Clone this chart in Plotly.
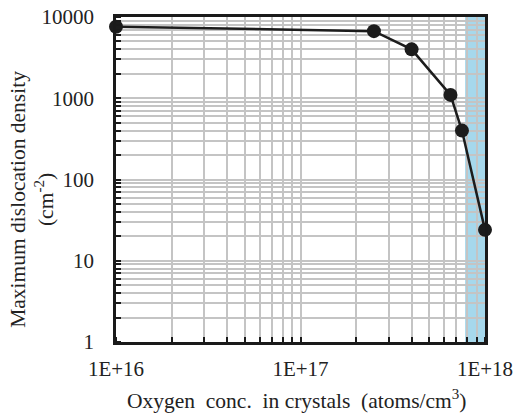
import plotly.graph_objects as go

# Oxygen concentration (atoms/cm^3) and maximum dislocation density (cm^-2)
oxygen_conc = [1.0e16, 2.5e17, 4.0e17, 6.5e17, 7.5e17, 1.0e18]
max_disloc = [7600, 6700, 4000, 1100, 400, 24]

# Highlighted high-oxygen band
band_x = [7.8e17, 1.0e18]

x_tickvals = [1e16, 1e17, 1e18]
x_ticktext = ["1E+16", "1E+17", "1E+18"]
y_tickvals = [1, 10, 100, 1000, 10000]
y_ticktext = ["1", "10", "100", "1000", "10000"]

FONT = "Liberation Serif"
GRID = "#c4c4c4"

fig = go.Figure()

fig.add_trace(go.Scatter(
    x=oxygen_conc, y=max_disloc,
    mode="lines+markers",
    line=dict(color="#1c1c1c", width=2.5),
    marker=dict(size=14, color="#1c1c1c"),
    cliponaxis=False,
    showlegend=False,
))

fig.add_shape(
    type="rect", xref="x", yref="paper",
    x0=band_x[0], x1=band_x[1], y0=0, y1=1,
    fillcolor="#a6d8ec", line=dict(width=0), layer="below",
)

axis_common = dict(
    type="log", automargin=False,
    showline=True, mirror=True, linecolor="#1a1a1a", linewidth=2.5,
    showgrid=True, gridcolor=GRID, gridwidth=1.5,
    ticks="", zeroline=False,
    tickfont=dict(family=FONT, size=21, color="#222"),
    minor=dict(
        dtick="D1", showgrid=True, gridcolor=GRID, gridwidth=1.5,
        ticks="inside", ticklen=5, tickwidth=1.5, tickcolor="#1a1a1a",
    ),
)

fig.update_xaxes(
    **axis_common,
    range=[16, 18],
    tickvals=x_tickvals, ticktext=x_ticktext,
    ticklabelstandoff=6,
)
fig.update_yaxes(
    **axis_common,
    range=[0, 4],
    tickvals=y_tickvals, ticktext=y_ticktext,
    ticklabelstandoff=15,
)

fig.add_annotation(
    text="Maximum dislocation density<br>(cm<sup>-2</sup>)",
    xref="paper", yref="paper", x=-0.228, y=0.44,
    xanchor="center", yanchor="middle", textangle=-90,
    showarrow=False, font=dict(family=FONT, size=21.5, color="#222"),
)
fig.add_annotation(
    text="Oxygen  conc.  in crystals  (atoms/cm<sup>3</sup>)",
    xref="paper", yref="paper", x=0.49, y=-0.178,
    xanchor="center", yanchor="middle",
    showarrow=False, font=dict(family=FONT, size=21.5, color="#222"),
)

fig.update_layout(
    width=516, height=414,
    margin=dict(l=116, r=31, t=17, b=72),
    paper_bgcolor="white", plot_bgcolor="white",
)

fig.write_html("out.html")
